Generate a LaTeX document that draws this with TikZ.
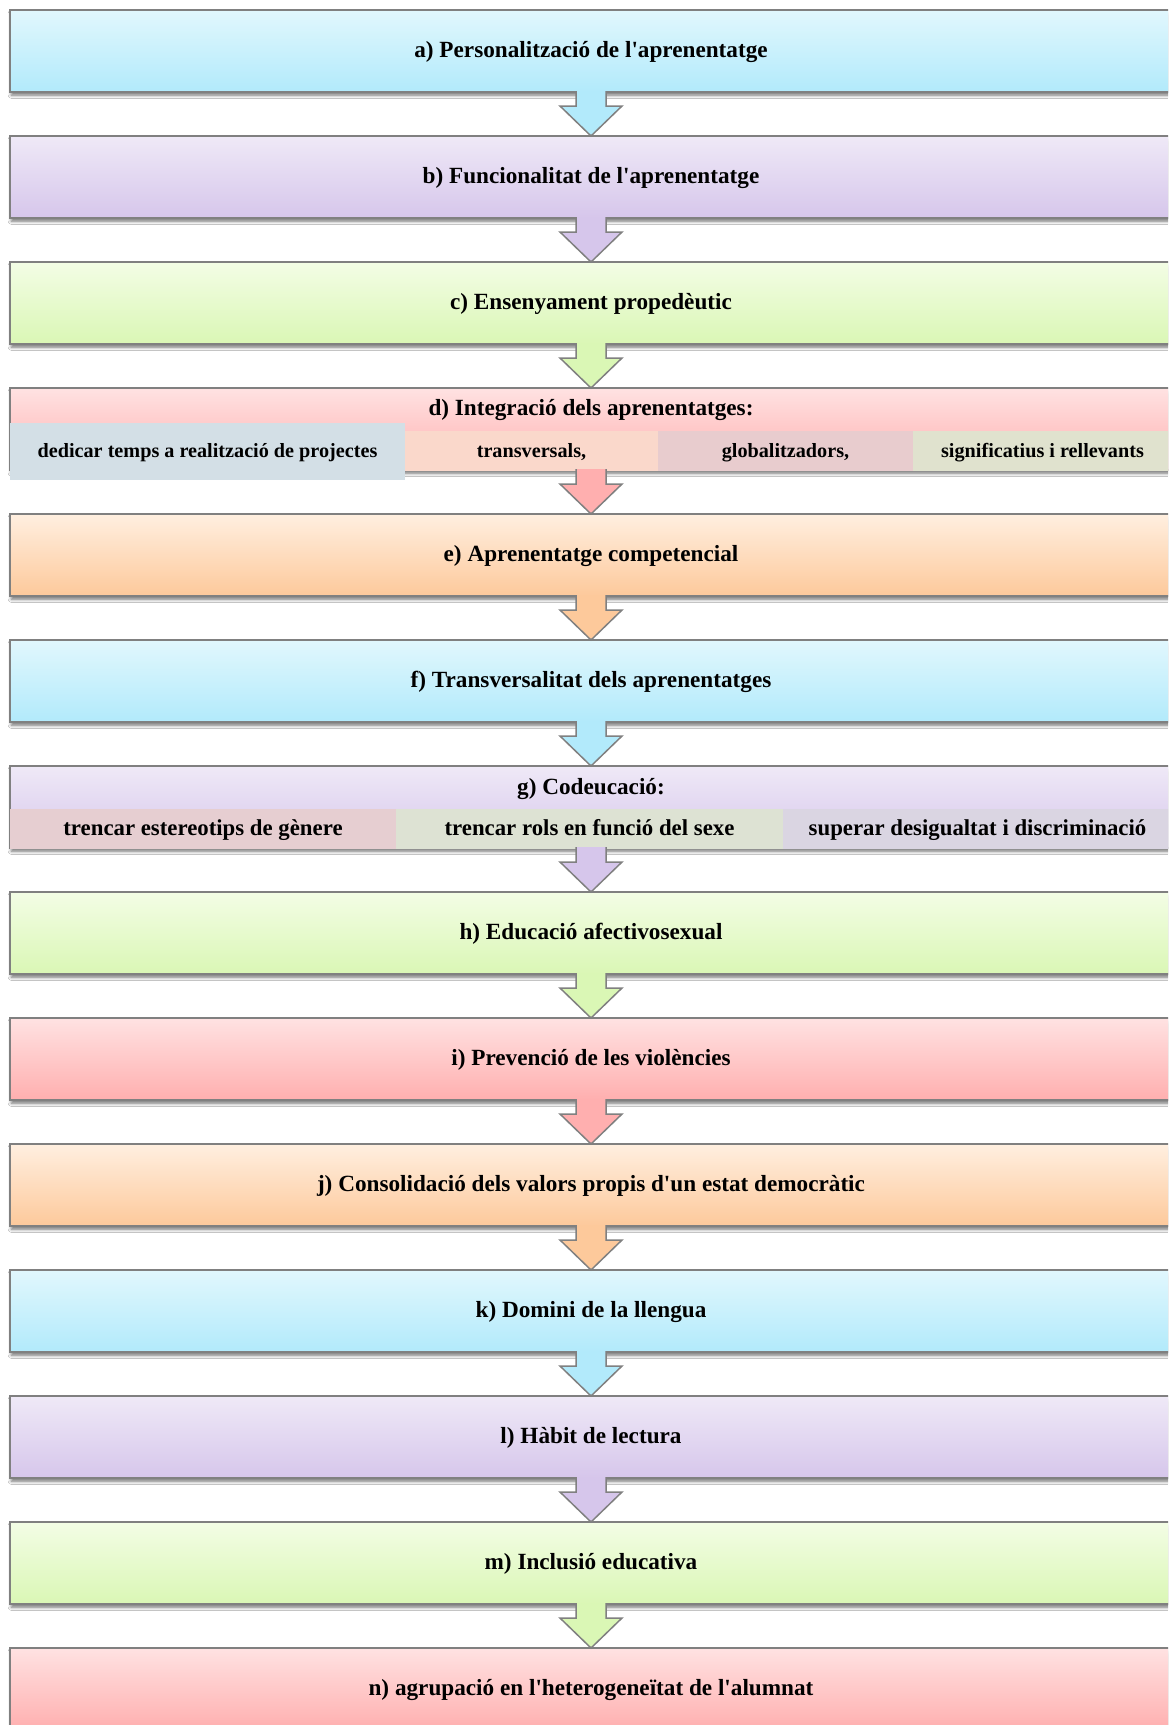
\documentclass[tikz,border=0pt]{standalone}
\usepackage{fontspec}
\setmainfont{Liberation Serif}[Ligatures=TeXOff]
\usetikzlibrary{calc,shadows.blur}
\definecolor{cyanT}{HTML}{E1F7FD}\definecolor{cyanB}{HTML}{B2EAFB}
\definecolor{purT}{HTML}{EFE9F7}\definecolor{purB}{HTML}{D6C6EB}
\definecolor{grnT}{HTML}{F3FDE5}\definecolor{grnB}{HTML}{DAF7B5}
\definecolor{redT}{HTML}{FFE2E2}\definecolor{redB}{HTML}{FFAFAF}
\definecolor{orgT}{HTML}{FFEFE0}\definecolor{orgB}{HTML}{FDC99B}
\definecolor{edge}{HTML}{808080}
\definecolor{cdA}{HTML}{D3DFE6}\definecolor{cdB}{HTML}{FAD8CB}
\definecolor{cdC}{HTML}{E8CCCE}\definecolor{cdD}{HTML}{E0E2CE}
\definecolor{cgA}{HTML}{E6CED1}\definecolor{cgB}{HTML}{DDE2D3}
\definecolor{cgC}{HTML}{DAD5E2}
\tikzset{
  box/.style={draw=edge, line width=0.75pt, minimum width=581pt, minimum height=41pt,
    inner sep=0pt, outer sep=0pt, text height=0.86em, text depth=0.22em,
    font=\fontsize{11.6pt}{14pt}\selectfont\bfseries,
    blur shadow={shadow xshift=0.7pt, shadow yshift=-1.6pt, shadow blur radius=1.6pt, shadow opacity=55}},
  cyanbox/.style={box, top color=cyanT, bottom color=cyanB},
  purbox/.style={box, top color=purT, bottom color=purB},
  grnbox/.style={box, top color=grnT, bottom color=grnB},
  redbox/.style={box, top color=redT, bottom color=redB},
  orgbox/.style={box, top color=orgT, bottom color=orgB},
  titletext/.style={inner sep=0pt, text height=0.86em, text depth=0.22em, font=\fontsize{11.6pt}{14pt}\selectfont\bfseries},
  dcell/.style={inner sep=0pt, outer sep=0pt, minimum height=20pt, text height=0.86em, text depth=0.22em, font=\fontsize{10.1pt}{12pt}\selectfont\bfseries},
  gcell/.style={inner sep=0pt, outer sep=0pt, minimum height=20pt, text height=0.86em, text depth=0.22em, font=\fontsize{11.4pt}{14pt}\selectfont\bfseries},
  arrline/.style={draw=edge, line width=0.75pt, line join=miter}
}
\newcommand\flowarrow[3]{%
  \path[arrline, fill=#3]
    ($(#1.south)+(-15,-1)$) -- ($(#1.south)+(-15,14)$) -- ($(#1.south)+(-31,14)$)
    -- (#2.north) -- ($(#1.south)+(31,14)$) -- ($(#1.south)+(15,14)$) -- ($(#1.south)+(15,-1)$);
}
\begin{document}
\begin{tikzpicture}[x=0.5pt, y=-0.5pt]
\useasboundingbox (0,0) rectangle (1168,1725);
\clip (0,0) rectangle (1168,1725);
\fill[white] (0,0) rectangle (1168,1725);
\node[cyanbox] (a) at (591,51) {a) Personalització de l'aprenentatge};
\node[purbox] (b) at (591,177) {b) Funcionalitat de l'aprenentatge};
\node[grnbox] (c) at (591,303) {c) Ensenyament propedèutic};
\node[redbox] (d) at (591,429) {};
\node[orgbox] (e) at (591,555) {e) Aprenentatge competencial};
\node[cyanbox] (f) at (591,681) {f) Transversalitat dels aprenentatges};
\node[purbox] (g) at (591,807) {};
\node[grnbox] (h) at (591,933) {h) Educació afectivosexual};
\node[redbox] (i) at (591,1059) {i) Prevenció de les violències};
\node[orgbox] (j) at (591,1185) {j) Consolidació dels valors propis d'un estat democràtic};
\node[cyanbox] (k) at (591,1311) {k) Domini de la llengua};
\node[purbox] (l) at (591,1437) {l) Hàbit de lectura};
\node[grnbox] (m) at (591,1563) {m) Inclusió educativa};
\node[redbox] (n) at (591,1689) {n) agrupació en l'heterogeneïtat de l'alumnat};
% d row
\node[titletext] (dT) at (591,409) {d) Integració dels aprenentatges:};
\node[dcell, fill=cdA, minimum width=197.5pt, minimum height=28.5pt] (d1) at (207.5,451.5) {dedicar temps a realització de projectes};
\node[dcell, fill=cdB, minimum width=126.5pt] (d2) at (531.5,451) {transversals,};
\node[dcell, fill=cdC, minimum width=127.5pt] (d3) at (785.5,451) {globalitzadors,};
\node[dcell, fill=cdD, minimum width=129.5pt] (d4) at (1042.5,451) {significatius i rellevants};
% g row
\node[titletext] (gT) at (591,788) {g) Codeucació:};
\node[gcell, fill=cgA, minimum width=193pt] (g1) at (203,829) {trencar estereotips de gènere};
\node[gcell, fill=cgB, minimum width=193.5pt] (g2) at (589.5,829) {trencar rols en funció del sexe};
\node[gcell, fill=cgC, minimum width=194.5pt] (g3) at (977.5,829) {superar desigualtat i discriminació};
% arrows
\flowarrow{a}{b}{cyanB}
\flowarrow{b}{c}{purB}
\flowarrow{c}{d}{grnB}
\flowarrow{d}{e}{redB}
\flowarrow{e}{f}{orgB}
\flowarrow{f}{g}{cyanB}
\flowarrow{g}{h}{purB}
\flowarrow{h}{i}{grnB}
\flowarrow{i}{j}{redB}
\flowarrow{j}{k}{orgB}
\flowarrow{k}{l}{cyanB}
\flowarrow{l}{m}{purB}
\flowarrow{m}{n}{grnB}
\end{tikzpicture}
\end{document}
